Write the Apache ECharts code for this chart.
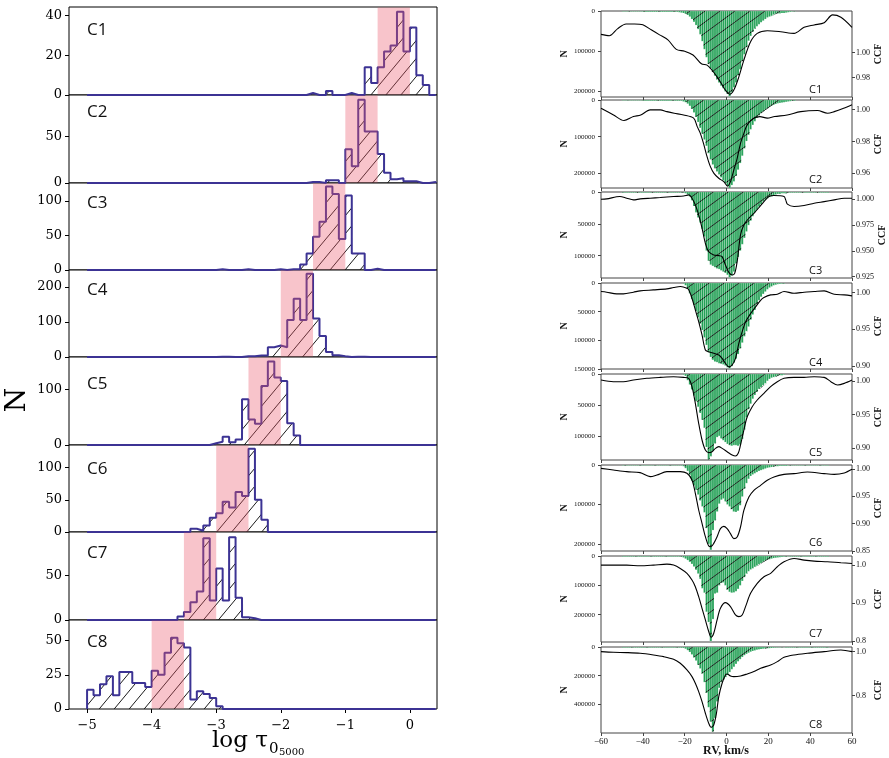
<!DOCTYPE html>
<html>
<head>
<meta charset="utf-8">
<script src="https://cdn.jsdelivr.net/npm/echarts@6.0.0/dist/echarts.min.js"></script>
<style>html,body{margin:0;padding:0;background:#fff}#chart{width:889px;height:758px}</style>
</head>
<body>
<div id="chart"></div>
<script>
// ---- left: log tau histograms, 0.1 wide bins starting at -5.0
const tauStart = -5.0, tauStep = 0.1;
const tauC1 = [0,0,0,0,0,0,0,0,0,0, 0,0,0,0,0,0,0,0,0,0, 0,0,0,0,0,0,0,0,0,0, 0,0,0,0,1,0,0,2,0,0, 1,0,0,14,6,14,22,25,42,22, 34,10,5,0];
const tauC2 = [0,0,0,0,0,0,0,0,0,0, 0,0,0,0,0,0,0,0,0,0, 0,0,0,0,0,0,0,0,0,0, 0,0,0,0,1,1,0,3,3,0, 36,18,89,55,55,31,11,4,5,2, 2,0,0,1];
const tauC3 = [0,0,0,0,0,0,0,0,0,0, 0,0,0,0,0,0,0,0,0,0, 1,0,0,0,1,0,0,0,0,1, 0,1,1,8,24,48,70,121,110,45, 108,24,24,0,2,0,0,0,0,0, 0,0,0,0];
const tauC4 = [0,0,0,0,0,0,0,0,0,0, 0,0,0,0,0,0,0,0,0,0, 1,1,0,0,2,2,4,4,28,33, 28,106,167,106,238,110,60,14,5,2, 0,1,1,0,0,0,0,0,0,0, 0,0,0,0];
const tauC5 = [0,0,0,0,0,0,0,0,0,0, 0,0,0,0,0,0,0,0,0,3, 6,15,5,10,82,46,38,106,150,121, 115,39,17,0,0,0,0,0,0,0, 0,0,0,0,0,0,0,0,0,0, 0,0,0,0];
const tauC6 = [0,0,0,0,0,0,0,0,0,0, 0,0,0,0,0,0,5,2,10,22, 29,47,38,62,56,129,50,19,0,0, 0,0,0,0,0,0,0,0,0,0, 0,0,0,0,0,0,0,0,0,0, 0,0,0,0];
const tauC7 = [0,0,0,0,0,0,0,0,0,0, 0,0,0,0,4,9,20,32,92,22, 58,22,93,25,3,2,0,0,0,0, 0,0,0,0,0,0,0,0,0,0, 0,0,0,0,0,0,0,0,0,0, 0,0,0,0];
const tauC8 = [14,10,18,24,10,27,27,19,19,16, 28,25,41,52,48,45,7,13,11,8, 2,0,0,0,0,0,0,0,0,0, 0,0,0,0,0,0,0,0,0,0, 0,0,0,0,0,0,0,0,0,0, 0,0,0,0];
const tauCounts = [tauC1, tauC2, tauC3, tauC4, tauC5, tauC6, tauC7, tauC8];
const tauBands = [[-0.5, 0], [-1, -0.5], [-1.5, -1], [-2, -1.5], [-2.5, -2], [-3, -2.5], [-3.5, -3], [-4, -3.5]];
const tauMax = [44.4, 94, 126, 249, 158, 135, 99, 65];
const tauTicks = [[0, 20, 40], [0, 50], [0, 50, 100], [0, 100, 200], [0, 100], [0, 50, 100], [0, 50], [0, 25, 50]];
const tauXTicks = [-5, -4, -3, -2, -1, 0];

// ---- right: RV histograms (thousands per 1 km/s bin, first bin at -50) and CCF curves
const rvStart = -50, rvStep = 1;
const rvC1 = [1,1,1,1,1,1,1,1,1,1, 2,2,2,2,2,2,2,2,2,2,2,2,2,2,2,2,2,3,
  4,5,7,10,14,20,27,35,45,58, 75,95,115,132,143,152,161,170,178,186, 192,200,206,212,202,190,178,160,145,125,
  108,90,74,62,52,44,38,33,28,24, 20,16,14,12,9,7,6,6,5,5, 4,3,2,1,1];
const rvC2 = [1,1,1,1,1,1,1,1,1,1, 2,2,2,2,2,2,2,2,2,2,2,2,2,2,2,2,2,2,
  2,4,6,10,16,24,34,46,60,76, 92,108,125,145,162,176,186,195,203,211, 219,226,234,240,232,222,207,190,172,152,
  132,112,95,80,68,58,49,42,36,31, 27,23,19,16,13,11,9,8,7,6, 5,4,3,2,2];
const rvC3 = [1,1,1,1,1,1,1,1,1,1, 1,1,1,1,1,1,1,1,1,1, 1,1,1,1,1,1,1,1,1,
  1,2,4,7,13,22,32,40,48,58, 70,92,108,114,116,118,120,121,123,125, 127,130,134,131,125,112,102,92,82,72,
  62,52,45,38,32,28,23,19,15,12, 10,8,7,5,4,3,3,2,2,2, 1,1,
  1,1,1,1,1,1,1,1,1,1,1,1,1,1,1,1,1,1];
const rvC4 = [0,0,0,0,0,0,0,0,0,0, 0,0,0,0,0,0,0,0,0,0, 0,0,0,0,0,0,0,0,0,
  1,4,10,18,28,38,49,60,71,82, 95,108,121,129,134,137,138,140,141,142, 144,147,149,145,139,132,124,114,104,93,
  84,76,64,55,47,37,30,24,19,15, 11,8,6,4,3,2,1.5,1,1];
const rvC5 = [0,0,0,0,0,0,0,0,0,0, 0,0,0,0,0,0,0,0,0,0, 0,0,0,0,0,0,0,0,0,
  1,3,10,17,25,35,44,53,63,74, 87,118,138,133,124,112,102,100,104,107, 110,113,115,116,115,115,116,114,105,90,
  70,57,48,40,34,29,24,21,18,15, 11,8,6,5,4,3,2,2,1];
const rvC6 = [1,1,1,1,1,1,1,1,1,1, 1,1,1,1,1,1,1,1,1,1, 1,1,1,1,1,1,1,1,
  1,3,8,15,25,40,52,63,75,90, 105,120,160,200,215,165,140,118,98,88, 85,92,100,105,112,118,119,116,102,80,
  60,46,35,28,24,21,18,15,13,11, 9,7,6,5,4,3,3,2,2,2, 2,1,
  1,1,1,1,1,1,1,1,1,1,1,1,1,1,1,1,1,1,1];
const rvC7 = [2,2,2,2,2,2,2,2,2,2, 2,2,2,2,2,2,2,2,2,2, 2,2,2,2,2,2,2,2,
  2,5,9,14,20,27,36,47,60,78, 110,125,190,225,290,215,128,125,100,92, 90,100,115,122,125,124,120,112,100,85,
  72,60,52,46,42,37,33,28,24,20, 16,13,11,9,7,6,5,4,3,2, 2,1,
  2,2,2,2,2,2,2,2,2,2,2,2,2,2,2,2,2,2,2];
const rvC8 = [4,4,4,4,4,4,4,4,4,4, 4,4,4,4,4,4,4,4,4,4, 4,4,4,4,4,4,4,4,
  5,6,12,22,35,52,72,95,125,150, 185,245,320,420,520,590,495,380,285,245, 228,210,195,175,155,138,118,100,85,70,
  57,48,40,33,28,24,19,16,14,12, 10,9,8,7,5,4,3,2,2,1,
  4,4,4,4,4,4,4,4,4,4,4,4,4,4,4,4,4,4,4,4,4];
const rvCounts = [rvC1, rvC2, rvC3, rvC4, rvC5, rvC6, rvC7, rvC8];

const ccfC1 = [[-60,1.0144],[-56,1.0133],[-52,1.019],[-48,1.0227],[-44,1.0227],[-40,1.022],[-36,1.018],[-32,1.014],[-28,1.010],[-24,1.0024],[-20,1.001],[-16,0.998],[-12,0.991],[-9.3,0.9899],[-7,0.986],[-4.5,0.9805],[-2,0.974],[-0.5,0.9699],[1.6,0.9667],[3.5,0.970],[5.9,0.9805],[8.3,0.9939],[11.5,1.0085],[14.7,1.0152],[19.5,1.0173],[25.9,1.0165],[32.3,1.0152],[37.1,1.020],[41.9,1.0219],[46.7,1.0237],[50.7,1.0299],[54.7,1.028],[60,1.020]];
const ccfC2 = [[-60,1.0008],[-54,0.9966],[-49,0.9931],[-44.5,0.9956],[-41,0.9966],[-36.5,0.9998],[-31.7,0.9998],[-28.5,0.9987],[-25,0.9977],[-20.5,0.9966],[-15.7,0.9946],[-14,0.9893],[-12.5,0.9851],[-11,0.9788],[-9.3,0.9705],[-7.7,0.9642],[-6,0.96],[-3.7,0.9569],[-1.3,0.9548],[0.5,0.952],[1.9,0.9548],[3.5,0.9621],[5.1,0.9694],[6.7,0.9788],[8.3,0.9851],[9.9,0.9904],[13,0.9946],[16,0.9956],[19.5,0.9946],[23,0.9956],[29,0.9966],[35.5,0.9987],[43.5,0.9994],[48.3,0.9977],[51.5,0.9987],[56,1.0008],[60,1.003]];
const ccfC3 = [[-60,1.0],[-57.3,1.0003],[-51,1.0026],[-47.7,1.001],[-44.5,0.9994],[-41.3,1.0003],[-36.5,1.001],[-31.7,1.0016],[-25.3,1.0026],[-20.5,1.0032],[-18,1.0042],[-16.5,1.001],[-14.9,0.9945],[-13.3,0.9848],[-11.7,0.9719],[-10.1,0.9573],[-8.5,0.9492],[-6.1,0.946],[-3.7,0.9454],[-2.1,0.9444],[-0.5,0.9363],[1.1,0.9292],[2.7,0.9266],[3.9,0.9282],[5.1,0.9395],[6.7,0.9654],[8.3,0.9751],[10.7,0.9816],[13.1,0.9864],[15.5,0.9919],[17.9,0.9977],[20.3,1.0026],[22.7,1.0036],[27.5,1.0026],[28.3,0.9994],[29.1,0.9952],[32.3,0.9929],[37.1,0.9939],[41.9,0.9961],[46.7,0.9977],[51.5,0.9994],[56.3,1.001],[60,1.001]];
const ccfC4 = [[-60,1.0014],[-57.3,1.0005],[-52.5,0.9982],[-49.3,0.9982],[-44.5,1.0005],[-41.3,1.0023],[-35,1.0036],[-28.5,1.005],[-25.3,1.0068],[-22,1.0082],[-18.9,1.0059],[-18,1.0036],[-16.5,0.9923],[-14.9,0.9764],[-13.3,0.9605],[-11.7,0.9423],[-10.1,0.9218],[-8.5,0.9195],[-6.1,0.9173],[-3.7,0.915],[-2.1,0.9105],[-0.5,0.9036],[1.1,0.899],[2.7,0.9014],[4.3,0.9105],[5.9,0.9309],[7.5,0.9468],[9.1,0.96],[11.5,0.9714],[13.9,0.9805],[16.3,0.9895],[17.9,0.9932],[21.1,0.9968],[24.3,0.9977],[27.5,1.0014],[32.3,0.9991],[37.1,1.0005],[41.9,1.0014],[46.7,1.0023],[51.5,0.9977],[56.3,0.9968],[60,0.9955]];
const ccfC5 = [[-60,1.0015],[-54.1,0.999],[-49.3,0.999],[-44.5,1.0015],[-38.1,1.004],[-31.7,1.0054],[-25.3,1.0064],[-20.5,1.0054],[-18.1,1.004],[-16.5,0.9916],[-14.9,0.9668],[-13.3,0.9371],[-11.7,0.9124],[-10.1,0.8975],[-8.5,0.8936],[-6.9,0.895],[-5.3,0.9],[-3.7,0.9025],[-2.1,0.9],[0.3,0.895],[2.7,0.8901],[4.3,0.8886],[5.6,0.8926],[6.7,0.905],[8.3,0.9272],[9.9,0.947],[12.3,0.9619],[14.7,0.9718],[17.9,0.9817],[21.1,0.9916],[24.3,0.999],[27.5,1.004],[32.3,1.0054],[37.1,1.0054],[41.9,1.0064],[46.7,1.0054],[49.9,0.999],[53.1,0.9941],[56.3,0.9965],[60,1.0015]];
const ccfC6 = [[-60,1.0012],[-54.1,0.9982],[-47.7,0.9951],[-41.3,0.9933],[-36.5,0.986],[-33.3,0.989],[-28.5,0.9951],[-22.1,0.9951],[-18.9,0.9921],[-16.5,0.9799],[-14.9,0.9555],[-13.3,0.925],[-11.7,0.9006],[-10.1,0.8762],[-8.5,0.8591],[-7.4,0.8579],[-6.1,0.864],[-4.5,0.8762],[-2.9,0.8909],[-1.3,0.8951],[0.3,0.8909],[1.9,0.8817],[3.5,0.8726],[5.1,0.8756],[6.7,0.8939],[8.3,0.9244],[10.7,0.9488],[13.1,0.961],[16.3,0.9701],[19.5,0.9793],[22.7,0.9854],[27.5,0.9902],[32.3,0.9915],[38.7,0.9945],[46.7,0.9915],[51.5,0.9902],[56.3,0.9927],[60,0.9994]];
const ccfC7 = [[-60,1.0],[-54.1,1.0],[-47.7,1.0],[-41.3,0.9982],[-34.9,1.0],[-28.5,1.0026],[-25.3,1.0],[-22.1,0.9912],[-18.9,0.9781],[-16.5,0.9605],[-14.9,0.943],[-13.3,0.9167],[-11.7,0.886],[-10.1,0.8553],[-8.5,0.8246],[-7.4,0.8096],[-6.1,0.8202],[-4.5,0.8553],[-2.9,0.886],[-0.5,0.9009],[1.9,0.8904],[4.3,0.8684],[5.9,0.864],[7.5,0.8684],[9.1,0.8904],[11.5,0.9254],[14.7,0.9518],[17.9,0.9693],[21.1,0.9781],[24.3,0.9956],[27.5,1.0088],[32.3,1.0175],[37.1,1.0132],[41.9,1.0105],[48.3,1.0088],[54.7,1.0061],[60,1.0044]];
const ccfC8 = [[-60,1.0],[-54.1,0.997],[-47.7,0.9955],[-41.3,0.9924],[-34.9,0.9848],[-30.1,0.9773],[-25.3,0.9652],[-22.1,0.947],[-18.9,0.9167],[-16.5,0.8864],[-14.9,0.8561],[-13.3,0.8182],[-11.7,0.7727],[-10.1,0.7197],[-8.5,0.6742],[-7.4,0.656],[-6.1,0.6667],[-4.8,0.7197],[-3.7,0.7955],[-2.1,0.8561],[-0.5,0.8939],[0.3,0.8985],[1.9,0.8894],[3.5,0.8864],[6.7,0.8894],[9.9,0.8985],[13.1,0.9091],[16.3,0.9242],[21.1,0.9394],[24.3,0.9545],[27.5,0.9742],[32.3,0.9848],[38.7,0.9924],[46.7,1.0],[54.7,1.0076],[60,1.0]];
const ccfAll = [ccfC1, ccfC2, ccfC3, ccfC4, ccfC5, ccfC6, ccfC7, ccfC8];

const nMax = [214000, 240000, 135000, 150000, 139000, 218000, 293000, 600000];
const nTicks = [[0, 100000, 200000], [0, 100000, 200000], [0, 50000, 100000], [0, 50000, 100000, 150000], [0, 50000, 100000], [0, 100000, 200000], [0, 100000, 200000], [0, 200000, 400000]];
const ccfMin = [0.9645, 0.9508, 0.9237, 0.896, 0.8827, 0.85, 0.797, 0.63];
const ccfMax = [1.033, 1.006, 1.007, 1.013, 1.0104, 1.0073, 1.024, 1.021];
const ccfTicks = [[0.98, 1.0], [0.96, 0.98, 1.0], [0.925, 0.95, 0.975, 1.0], [0.9, 0.95, 1.0], [0.9, 0.95, 1.0], [0.85, 0.9, 0.95, 1.0], [0.8, 0.9, 1.0], [0.8, 1.0]];
const ccfDec = [2, 2, 3, 2, 2, 2, 1, 1];
const rvXTicks = [-60, -40, -20, 0, 20, 40, 60];
const panelNames = ['C1', 'C2', 'C3', 'C4', 'C5', 'C6', 'C7', 'C8'];

// ---- layout
const leftEdges = [7, 95, 183, 270, 357, 445, 532, 620, 709];
const rightBoxes = [[11, 97], [100, 188], [192, 278], [283, 369], [374, 460], [465, 551], [556, 642], [647, 733]];
const leftLabelY = [30, 112, 203, 290, 384, 469, 553, 642];
const rightLabelY = [90, 180, 271, 363, 453, 543, 634, 725];

const BLUE = '#3c3394', GREEN = '#22a055', PINK = 'rgba(235,86,106,0.35)';
const serif = 'DejaVu Serif', rserif = 'Liberation Serif';
const minus = v => (v < 0 ? '\u2212' : '') + Math.abs(v);

function hatch(w, h, color, lw) {
  const c = document.createElement('canvas');
  c.width = w; c.height = h;
  const g = c.getContext('2d');
  g.strokeStyle = color; g.lineWidth = lw;
  g.beginPath();
  [-w, 0, w].forEach(dx => { g.moveTo(dx, h); g.lineTo(dx + w, 0); });
  g.stroke();
  return c;
}
const hatchL = { image: hatch(15, 18, '#1a1a1a', 1), repeat: 'repeat' };
const hatchR = { image: hatch(15, 11, '#000', 1), repeat: 'repeat' };

function renderBand(params, api) {
  const a = api.coord([api.value(0), 0]);
  const b = api.coord([api.value(1), 0]);
  const cs = params.coordSys;
  return { type: 'rect', shape: { x: a[0], y: cs.y + 0.5, width: b[0] - a[0], height: cs.height - 1 }, style: { fill: PINK } };
}

function barShape(api) {
  const v = api.value(0), n = api.value(1);
  const a = api.coord([v, 0]), b = api.coord([v + rvStep, n]);
  return { x: a[0], y: Math.min(a[1], b[1]), width: b[0] - a[0], height: Math.abs(b[1] - a[1]) };
}
const renderBarFill = (params, api) => ({ type: 'rect', shape: barShape(api), style: { fill: GREEN } });
const renderBarEdge = (params, api) => ({ type: 'rect', shape: barShape(api), style: { fill: 'none', stroke: 'rgba(255,255,255,0.45)', lineWidth: 0.4 } });

function stepPoints(start, step, counts) {
  const pts = [[start, 0]];
  counts.forEach((c, k) => pts.push([+(start + k * step).toFixed(2), c]));
  pts.push([+(start + counts.length * step).toFixed(2), 0]);
  return pts;
}

const grid = [], xAxis = [], yAxis = [], series = [], graphic = [];

// left panels
for (let i = 0; i < 8; i++) {
  const last = i === 7;
  grid.push({ left: 69, top: leftEdges[i], width: 368, height: leftEdges[i + 1] - leftEdges[i],
    show: true, borderColor: '#000', borderWidth: 1, backgroundColor: '#fff', containLabel: false, outerBoundsMode: 'none' });
  xAxis.push({ type: 'value', gridIndex: i, min: -5.28, max: 0.42, axisLine: { show: false, onZero: false }, splitLine: { show: false },
    axisTick: { show: last, customValues: tauXTicks, length: 4, lineStyle: { color: '#000' } },
    axisLabel: { show: last, customValues: tauXTicks, formatter: minus, margin: 10, fontFamily: serif, fontSize: 13, color: '#000' } });
  yAxis.push({ type: 'value', gridIndex: i, min: 0, max: tauMax[i], axisLine: { show: false, onZero: false }, splitLine: { show: false },
    axisTick: { show: true, customValues: tauTicks[i], length: 4, lineStyle: { color: '#000' } },
    axisLabel: { customValues: tauTicks[i], margin: 7, fontFamily: serif, fontSize: 13, color: '#000' } });

  series.push({ type: 'line', xAxisIndex: i, yAxisIndex: i, step: 'end', symbol: 'none', clip: false, silent: true, z: 2,
    data: stepPoints(tauStart, tauStep, tauCounts[i]), lineStyle: { color: BLUE, width: 2 }, areaStyle: { color: hatchL, opacity: 1 } });
  series.push({ type: 'custom', xAxisIndex: i, yAxisIndex: i, z: 5, silent: true, data: [tauBands[i]], renderItem: renderBand });

  graphic.push({ type: 'text', x: 87, y: leftLabelY[i], silent: true,
    style: { text: panelNames[i], fontFamily: 'Open Sans', fontSize: 17, fill: '#111', align: 'left', verticalAlign: 'middle' } });
}

// right panels
for (let i = 0; i < 8; i++) {
  const last = i === 7;
  const [t, b] = rightBoxes[i];
  grid.push({ left: 601, top: t, width: 251, height: b - t, show: true, borderColor: '#444', borderWidth: 1,
    backgroundColor: '#fff', containLabel: false, outerBoundsMode: 'none' });
  xAxis.push({ type: 'value', gridIndex: 8 + i, min: -60, max: 60, axisLine: { show: false, onZero: false }, splitLine: { show: false },
    axisTick: { show: true, customValues: rvXTicks, length: 3, lineStyle: { color: '#444' } },
    axisLabel: { show: last, customValues: rvXTicks, formatter: minus, margin: 4, fontFamily: rserif, fontSize: 9, color: '#111' } });
}
for (let i = 0; i < 8; i++) {
  yAxis.push({ type: 'value', gridIndex: 8 + i, position: 'left', inverse: true, min: 0, max: nMax[i],
    axisLine: { show: false, onZero: false }, splitLine: { show: false },
    axisTick: { show: true, customValues: nTicks[i], length: 3, lineStyle: { color: '#444' } },
    axisLabel: { customValues: nTicks[i], formatter: v => String(v), margin: 6, fontFamily: rserif, fontSize: 7, color: '#111' },
    name: 'N', nameLocation: 'middle', nameRotate: 90, nameGap: 32,
    nameTextStyle: { fontFamily: rserif, fontWeight: 'bold', fontSize: 10, color: '#111' } });
}
for (let i = 0; i < 8; i++) {
  yAxis.push({ type: 'value', gridIndex: 8 + i, position: 'right', min: ccfMin[i], max: ccfMax[i],
    axisLine: { show: false, onZero: false }, splitLine: { show: false },
    axisTick: { show: true, customValues: ccfTicks[i], length: 3, lineStyle: { color: '#444' } },
    axisLabel: { customValues: ccfTicks[i], formatter: v => v.toFixed(ccfDec[i]), margin: 4, fontFamily: rserif, fontSize: 8, color: '#111' },
    name: 'CCF', nameLocation: 'middle', nameRotate: 90, nameGap: 21,
    nameTextStyle: { fontFamily: rserif, fontWeight: 'bold', fontSize: 10, color: '#111' } });
}
for (let i = 0; i < 8; i++) {
  const countsN = rvCounts[i].map(n => n * 1000);
  const bars = countsN.map((n, k) => [rvStart + k * rvStep, n]).filter(d => d[1] > 0);
  series.push({ type: 'custom', xAxisIndex: 8 + i, yAxisIndex: 8 + i, z: 2, silent: true, clip: true, data: bars, renderItem: renderBarFill });
  series.push({ type: 'line', xAxisIndex: 8 + i, yAxisIndex: 8 + i, step: 'end', symbol: 'none', silent: true, z: 3,
    data: stepPoints(rvStart, rvStep, countsN), lineStyle: { width: 0, opacity: 0 }, areaStyle: { color: hatchR, opacity: 1 } });
  series.push({ type: 'custom', xAxisIndex: 8 + i, yAxisIndex: 8 + i, z: 3.5, silent: true, clip: true, data: bars, renderItem: renderBarEdge });
  series.push({ type: 'line', xAxisIndex: 8 + i, yAxisIndex: 16 + i, smooth: 0.3, symbol: 'none', silent: true, z: 4,
    data: ccfAll[i], lineStyle: { color: '#000', width: 1.1 } });
  graphic.push({ type: 'text', x: 809, y: rightLabelY[i], silent: true,
    style: { text: panelNames[i], fontFamily: 'Open Sans', fontSize: 11, fill: '#111', align: 'left', verticalAlign: 'middle' } });
}

// axis titles
graphic.push({ type: 'text', x: 18, y: 400, rotation: Math.PI / 2, silent: true,
  style: { text: 'N', fontFamily: serif, fontSize: 28, fill: '#000', align: 'center', verticalAlign: 'middle' } });
graphic.push({ type: 'text', x: 212, y: 741, silent: true,
  style: { text: 'log \u03c4', fontFamily: serif, fontSize: 23, fill: '#000', align: 'left', verticalAlign: 'middle' } });
graphic.push({ type: 'text', x: 269, y: 749, silent: true,
  style: { text: '0', fontFamily: serif, fontSize: 15, fill: '#000', align: 'left', verticalAlign: 'middle' } });
graphic.push({ type: 'text', x: 279, y: 752, silent: true,
  style: { text: '5000', fontFamily: serif, fontSize: 10, fill: '#000', align: 'left', verticalAlign: 'middle' } });
graphic.push({ type: 'text', x: 726, y: 751, silent: true,
  style: { text: 'RV, km/s', fontFamily: rserif, fontWeight: 'bold', fontSize: 12, fill: '#111', align: 'center', verticalAlign: 'middle' } });

const chart = echarts.init(document.getElementById('chart'), null, { renderer: 'canvas' });
chart.setOption({ animation: false, backgroundColor: '#fff', grid, xAxis, yAxis, series, graphic });
</script>
</body>
</html>
